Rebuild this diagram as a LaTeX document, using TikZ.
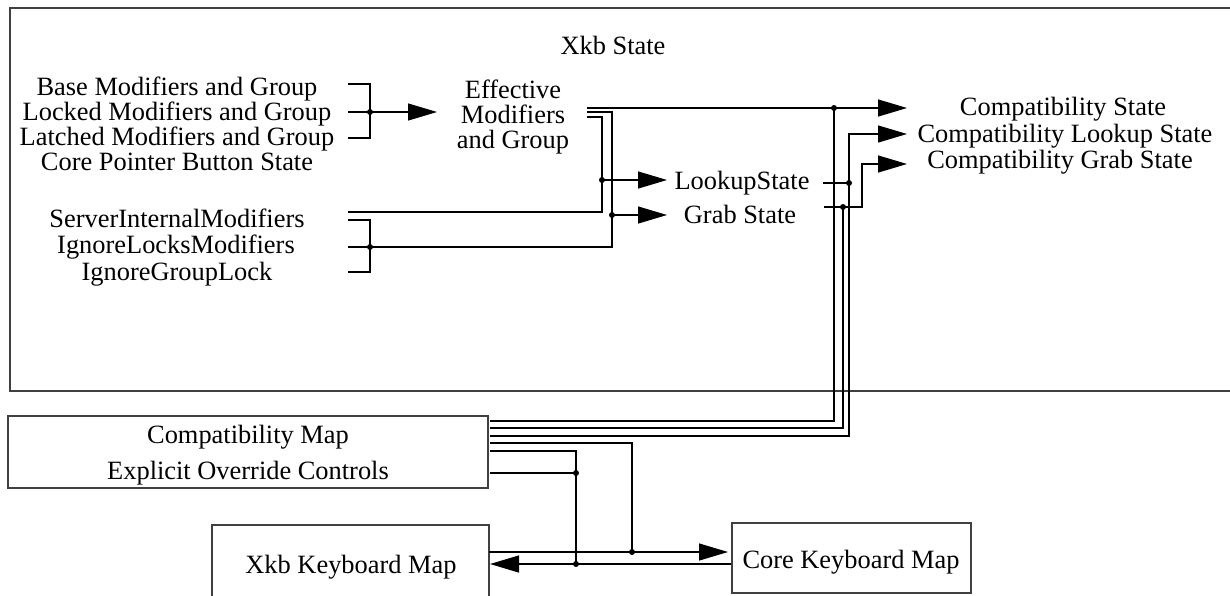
\documentclass[tikz,border=0pt]{standalone}
\usepackage{fontspec}
\setmainfont{Liberation Serif}
\usetikzlibrary{arrows.meta}
\begin{document}
\begin{tikzpicture}[x=0.5pt,y=-0.5pt,
  txt/.style={anchor=base, inner sep=0pt, font=\fontsize{13.2}{13}\selectfont},
  box/.style={draw=black!75, line width=0.9pt, inner sep=0pt},
  wire/.style={draw=black, line width=0.6pt},
  arr/.style={wire, -{Triangle[length=14.5pt,width=8.5pt]}},
  dot/.style={circle, fill=black, inner sep=0pt, minimum size=3pt}]
\useasboundingbox (0,0) rectangle (1230,595);

% boxes
\node[box, minimum width=615pt, minimum height=191.5pt] (state) at (625,199.5) {};
\node[box, minimum width=240pt, minimum height=36pt] (cmapbox) at (248,452) {};
\node[box, minimum width=138.5pt, minimum height=40pt] (xkbbox) at (350.5,565) {};
\node[box, minimum width=119.5pt, minimum height=35pt] (corebox) at (851.5,558) {};

% texts
\node[txt] (title) at (613,54) {Xkb State};
\node[txt] (base) at (177,95) {Base Modifiers and Group};
\node[txt] (locked) at (177,120) {Locked Modifiers and Group};
\node[txt] (latched) at (177,145) {Latched Modifiers and Group};
\node[txt] (corebtn) at (177,170) {Core Pointer Button State};
\node[txt] (eff1) at (513,98) {Effective};
\node[txt] (eff2) at (513,123) {Modifiers};
\node[txt] (eff3) at (513,148) {and Group};
\node[txt] (lookup) at (742,189) {LookupState};
\node[txt] (grab) at (740,223) {Grab State};
\node[txt] (cstate) at (1063,115) {Compatibility State};
\node[txt] (clookup) at (1065,142) {Compatibility Lookup State};
\node[txt] (cgrab) at (1060,168) {Compatibility Grab State};
\node[txt] (server) at (177,227) {ServerInternalModifiers};
\node[txt] (ignlocks) at (176,253) {IgnoreLocksModifiers};
\node[txt] (igngroup) at (177,280) {IgnoreGroupLock};
\node[txt] (cmap) at (248,443) {Compatibility Map};
\node[txt] (override) at (248,479) {Explicit Override Controls};
\node[txt] (xkbmap) at (351,573) {Xkb Keyboard Map};
\node[txt] (coremap) at (851,568) {Core Keyboard Map};

% junction coordinates
\coordinate (j1) at (370,112);
\coordinate (j2) at (370,247);
\coordinate (j3) at (602,180);
\coordinate (j4) at (612,215);
\coordinate (j5) at (834,108);
\coordinate (j6) at (849,183);
\coordinate (j7) at (843,207);
\coordinate (j8) at (632,552);
\coordinate (j9) at (576,564);
\coordinate (j10) at (576,473);

% first bracket
\draw[wire] (348,84) -| (370,138) -- (348,138);
\draw[wire] (348,112) -- (j1);
\draw[arr] (j1) -- (437,112);

% effective bundle
\draw[arr] (587,108) -- (907,108);
\draw[wire] (587,112) -| (612,247) -- (348,247);
\draw[wire] (587,117) -| (602,212) -- (348,212);
\draw[wire] (348,220) -| (370,272) -- (348,272);
\draw[arr] (j3) -- (667,180);
\draw[arr] (j4) -- (667,215);

% lookup / grab outputs
\draw[wire] (823,183) -- (j6);
\draw[arr] (490,436) -| (849,134) -- (907,134);
\draw[arr] (824,207) -| (862,164) -- (907,164);
\draw[wire] (j7) |- (490,428);
\draw[wire] (j5) |- (490,421);

% bottom
\draw[wire] (490,443) -| (j8);
\draw[wire] (490,451) -| (j9);
\draw[wire] (490,473) -- (j10);
\draw[arr] (489,552) -- (728,552);
\draw[arr] (corebox.west |- j9) -- (490,564);

% dots
\foreach \p in {j1,j2,j3,j4,j5,j6,j7,j8,j9,j10}
  \node[dot] at (\p) {};
\end{tikzpicture}
\end{document}
